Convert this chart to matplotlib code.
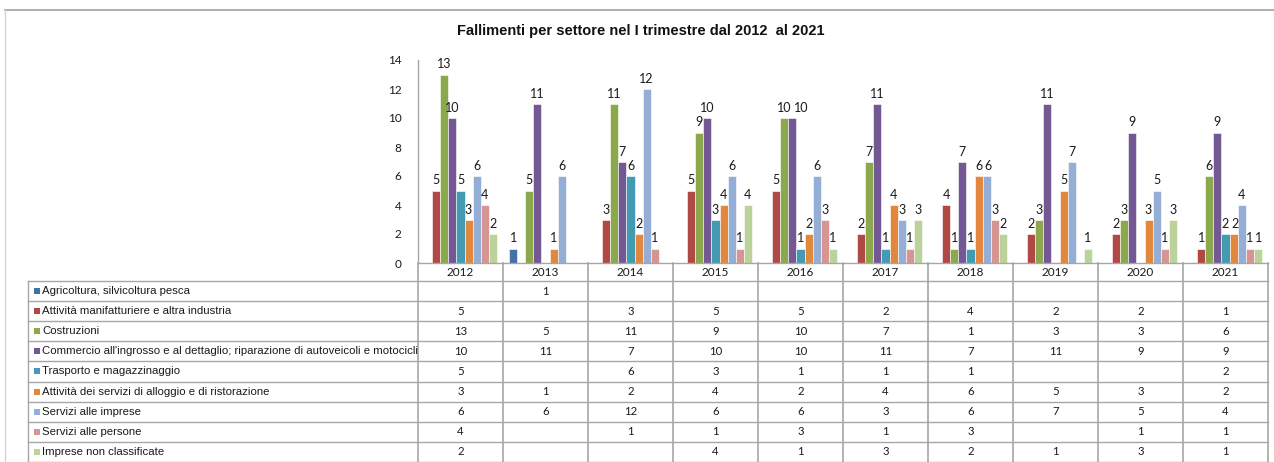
import numpy as np
import matplotlib
matplotlib.use("Agg")
import matplotlib.pyplot as plt
from matplotlib.transforms import blended_transform_factory
from matplotlib.lines import Line2D
from matplotlib.patches import Rectangle

plt.rcParams['font.family'] = ['Liberation Sans Narrow', 'Liberation Sans', 'DejaVu Sans']
NUMFONT = ['Lato', 'DejaVu Sans']

years = ['2012', '2013', '2014', '2015', '2016', '2017', '2018', '2019', '2020', '2021']
sectors = [
    "Agricoltura, silvicoltura pesca",
    "Attività manifatturiere e altra industria",
    "Costruzioni",
    "Commercio all'ingrosso e al dettaglio; riparazione di autoveicoli e motocicli",
    "Trasporto e magazzinaggio",
    "Attività dei servizi di alloggio e di ristorazione",
    "Servizi alle imprese",
    "Servizi alle persone",
    "Imprese non classificate",
]
agricoltura   = [None, 1, None, None, None, None, None, None, None, None]
manifattura   = [5, None, 3, 5, 5, 2, 4, 2, 2, 1]
costruzioni   = [13, 5, 11, 9, 10, 7, 1, 3, 3, 6]
commercio     = [10, 11, 7, 10, 10, 11, 7, 11, 9, 9]
trasporto     = [5, None, 6, 3, 1, 1, 1, None, None, 2]
alloggio      = [3, 1, 2, 4, 2, 4, 6, 5, 3, 2]
serv_imprese  = [6, 6, 12, 6, 6, 3, 6, 7, 5, 4]
serv_persone  = [4, None, 1, 1, 3, 1, 3, None, 1, 1]
non_class     = [2, None, None, 4, 1, 3, 2, 1, 3, 1]
series = [agricoltura, manifattura, costruzioni, commercio, trasporto,
          alloggio, serv_imprese, serv_persone, non_class]
colors = ['#4472A8', '#B04846', '#8CA84C', '#735893', '#429BB2',
          '#E2883E', '#95AED6', '#D69593', '#BBD39A']

title = "Fallimenti per settore nel I trimestre dal 2012  al 2021"

W, H = 1274, 462
fig = plt.figure(figsize=(W / 100, H / 100), dpi=100)

def fx(px):
    return px / W

def fy(py):
    return 1 - py / H

# chart area
ax_l, ax_r, ax_t, ax_b = 418, 1268, 60, 263
ax = fig.add_axes([fx(ax_l), fy(ax_b), fx(ax_r - ax_l), fy(ax_t) - fy(ax_b)])
n = len(series)
w = 0.095
x = np.arange(len(years))
labels_by_group = [[] for _ in years]
for j, (vals, col) in enumerate(zip(series, colors)):
    v = np.array([np.nan if a is None else a for a in vals], dtype=float)
    xs = x + (j - (n - 1) / 2) * w
    ax.bar(xs, v, width=w, color=col, edgecolor='white', linewidth=0.4)
    for i, (xi, vi) in enumerate(zip(xs, v)):
        if not np.isnan(vi):
            t = ax.annotate(f"{int(vi)}", (xi, vi), xytext=(0, 4), textcoords='offset pixels',
                            ha='center', va='bottom', fontsize=9, color='#1a1a1a',
                            family=NUMFONT)
            labels_by_group[i].append(t)

ax.set_xlim(-0.5, len(years) - 0.5)
ax.set_ylim(0, 14)
ax.set_yticks(np.arange(0, 15, 2))
ax.tick_params(axis='y', length=0, labelsize=8.5, pad=12, colors='#1a1a1a')
for lab in ax.get_yticklabels():
    lab.set_family(NUMFONT)
ax.set_xticks([])
for s in ['top', 'right', 'bottom']:
    ax.spines[s].set_visible(False)
ax.spines['left'].set_color('#A6A6A6')
ax.spines['left'].set_linewidth(1.0)

# nudge overlapping data labels to the right (like the original)
fig.canvas.draw()
renderer = fig.canvas.get_renderer()
for grp in labels_by_group:
    placed = []
    for t in grp:
        bb = t.get_window_extent(renderer)
        shift = 0
        for pb in placed:
            if bb.y0 < pb.y1 - 2 and bb.y1 > pb.y0 + 2 and bb.x0 + shift < pb.x1 + 1 and bb.x1 + shift > pb.x0:
                shift = pb.x1 + 2 - bb.x0
        if shift > 0:
            t.xyann = (t.xyann[0] + shift, t.xyann[1])
            bb = t.get_window_extent(renderer)
        placed.append(bb)

fig.text(fx(641), fy(31), title, ha='center', va='center', fontsize=10.5,
         fontweight='bold', color='#111111')

# outer frame
fig.add_artist(Line2D([fx(5), fx(1274)], [fy(9.5), fy(9.5)], color='#A0A0A0', lw=1.2))
fig.add_artist(Line2D([fx(5), fx(5)], [fy(9.5), fy(462)], color='#D4D4D4', lw=1.0))

# data table
tr = blended_transform_factory(ax.transData, fig.transFigure)
line_c = '#A6A6A6'
tab_left = 28
head_top, head_bot = 263, 281
row_h = 20.1
table_bottom = 462
fig.add_artist(Line2D([fx(ax_l), fx(ax_r)], [fy(head_top), fy(head_top)], color=line_c, lw=1.0))
for i, yr in enumerate(years):
    fig.text(x[i], fy((head_top + head_bot) / 2), yr, transform=tr, ha='center',
             va='center', fontsize=8.5, color='#1a1a1a', family=NUMFONT)
for i in range(len(years) + 1):
    fig.add_artist(Line2D([i - 0.5, i - 0.5], [fy(head_top), fy(table_bottom)],
                          transform=tr, color=line_c, lw=1.2))
for r in range(len(sectors) + 1):
    yy = head_bot + r * row_h
    fig.add_artist(Line2D([fx(tab_left), fx(ax_r)], [fy(yy), fy(yy)], color=line_c, lw=1.0))
fig.add_artist(Line2D([fx(tab_left), fx(tab_left)], [fy(head_bot), fy(table_bottom)],
                      color=line_c, lw=1.0))
for r, (name, vals, col) in enumerate(zip(sectors, series, colors)):
    yc = head_bot + (r + 0.5) * row_h
    fig.add_artist(Rectangle((fx(34), fy(yc + 3)), fx(6), fy(yc - 3) - fy(yc + 3),
                             transform=fig.transFigure, facecolor=col, edgecolor='none'))
    fig.text(fx(42), fy(yc), name, ha='left', va='center', fontsize=8.2, color='#1a1a1a')
    for i, vv in enumerate(vals):
        if vv is not None:
            fig.text(x[i], fy(yc), f"{vv}", transform=tr, ha='center', va='center',
                     fontsize=8.2, color='#1a1a1a', family=NUMFONT)

fig.savefig("out.png", dpi=100, facecolor='white')
